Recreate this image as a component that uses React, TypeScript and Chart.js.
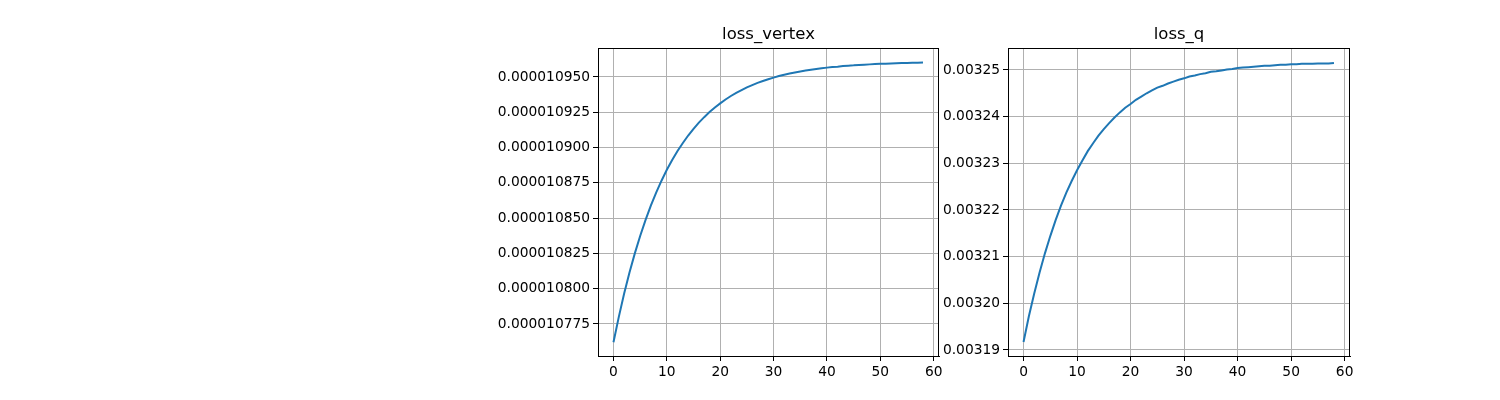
import { useEffect, useRef } from 'react';
import Chart from 'chart.js/auto';

const epochs = Array.from({ length: 59 }, (_, i) => i);

// loss_vertex, in units of 1e-6
const lossVertex = [
  10.762, 10.780, 10.7965, 10.8114, 10.825, 10.8373, 10.8486, 10.8588, 10.868, 10.8765,
  10.8842, 10.8911, 10.8975, 10.9032, 10.9085, 10.9132, 10.9176, 10.9215, 10.9251, 10.9284,
  10.9313, 10.934, 10.9365, 10.9387, 10.9407, 10.9426, 10.9442, 10.9458, 10.9471, 10.9484,
  10.9495, 10.9506, 10.9515, 10.9524, 10.9532, 10.9539, 10.9545, 10.9551, 10.9556, 10.9561,
  10.9566, 10.957, 10.9573, 10.9577, 10.958, 10.9582, 10.9585, 10.9587, 10.9589, 10.9591,
  10.9593, 10.9594, 10.9596, 10.9597, 10.9598, 10.9599, 10.96, 10.9601, 10.9602,
];

// loss_q, in units of 1e-3
const lossQ = [
  3.1917, 3.1972, 3.2021, 3.2066, 3.2107, 3.2144, 3.2178, 3.2209, 3.2237, 3.2262,
  3.2285, 3.2306, 3.2326, 3.2343, 3.2359, 3.2373, 3.2386, 3.2398, 3.2409, 3.2419,
  3.2427, 3.2436, 3.2443, 3.245, 3.2456, 3.2462, 3.2466, 3.2471, 3.2475, 3.2479,
  3.2482, 3.2486, 3.2488, 3.2491, 3.2493, 3.2496, 3.2497, 3.2499, 3.2501, 3.2502,
  3.2504, 3.2505, 3.2506, 3.2507, 3.2508, 3.2509, 3.2509, 3.251, 3.2511, 3.2511,
  3.2512, 3.2512, 3.2513, 3.2513, 3.2513, 3.2514, 3.2514, 3.2514, 3.2515,
];

const xTicks = [0, 10, 20, 30, 40, 50, 60];
const vertexTicks = [10.775, 10.8, 10.825, 10.85, 10.875, 10.9, 10.925, 10.95];
const qTicks = [3.19, 3.2, 3.21, 3.22, 3.23, 3.24, 3.25];

const FONT = 'DejaVu Sans';
const TICK_SIZE = 13.8;

interface PanelProps {
  title: string;
  values: number[];
  yTicks: number[];
  yMin: number;
  yMax: number;
  fmt: (v: number) => string;
  left: number;
  width: number;
  axisWidth: number;
  rightPad: number;
}

function Panel({ title, values, yTicks, yMin, yMax, fmt, left, width, axisWidth, rightPad }: PanelProps) {
  const ref = useRef<HTMLCanvasElement>(null);

  useEffect(() => {
    if (!ref.current) return;
    // matplotlib-style title and closed box around the axes
    const framePlugin = {
      id: 'mplFrame',
      afterDraw(chart: Chart) {
        const { ctx, chartArea } = chart;
        ctx.save();
        ctx.strokeStyle = '#000';
        ctx.lineWidth = 1;
        ctx.strokeRect(chartArea.left + 0.5, chartArea.top + 0.5,
          chartArea.right - chartArea.left - 1, chartArea.bottom - chartArea.top);
        ctx.fillStyle = '#000';
        ctx.font = `16.5px "${FONT}"`;
        ctx.textAlign = 'center';
        ctx.textBaseline = 'bottom';
        ctx.fillText(title, (chartArea.left + chartArea.right) / 2, chartArea.top - 5);
        ctx.restore();
      },
    };
    const chart = new Chart(ref.current, {
      type: 'line',
      data: {
        datasets: [{
          data: epochs.map((x, i) => ({ x, y: values[i] })),
          borderColor: '#1f77b4',
          borderWidth: 2,
          pointRadius: 0,
          tension: 0,
        }],
      },
      options: {
        animation: false,
        responsive: false,
        layout: { padding: { top: 48, right: rightPad, left: 0, bottom: 0 } },
        plugins: { legend: { display: false }, tooltip: { enabled: false }, title: { display: false } },
        scales: {
          x: {
            type: 'linear',
            min: -2.9,
            max: 61,
            afterBuildTicks: (axis: any) => { axis.ticks = xTicks.map(v => ({ value: v })); },
            afterFit: (axis: any) => { axis.height = 44; },
            grid: { color: '#b0b0b0', tickColor: '#000', tickLength: 5 },
            border: { color: '#000' },
            ticks: { color: '#000', font: { family: FONT, size: TICK_SIZE }, maxRotation: 0 },
          },
          y: {
            min: yMin,
            max: yMax,
            afterBuildTicks: (axis: any) => { axis.ticks = yTicks.map(v => ({ value: v })); },
            afterFit: (axis: any) => { axis.width = axisWidth; },
            grid: { color: '#b0b0b0', tickColor: '#000', tickLength: 5 },
            border: { color: '#000' },
            ticks: { color: '#000', font: { family: FONT, size: TICK_SIZE }, callback: (v: any) => fmt(Number(v)) },
          },
        },
      },
      plugins: [framePlugin],
    });
    return () => chart.destroy();
  }, []);

  return (
    <canvas
      ref={ref}
      width={width}
      height={400}
      style={{ position: 'absolute', left, top: 0, width, height: 400 }}
    />
  );
}

export default function App() {
  return (
    <div style={{ position: 'fixed', left: 0, top: 0, width: 1500, height: 400, background: '#fff' }}>
      <Panel
        title="loss_vertex"
        values={lossVertex}
        yTicks={vertexTicks}
        yMin={10.7523}
        yMax={10.9705}
        fmt={v => (v / 1e6).toFixed(9)}
        left={480}
        width={470}
        axisWidth={118}
        rightPad={11}
      />
      <Panel
        title="loss_q"
        values={lossQ}
        yTicks={qTicks}
        yMin={3.1887}
        yMax={3.2547}
        fmt={v => (v / 1e3).toFixed(5)}
        left={930}
        width={430}
        axisWidth={78}
        rightPad={10}
      />
    </div>
  );
}
